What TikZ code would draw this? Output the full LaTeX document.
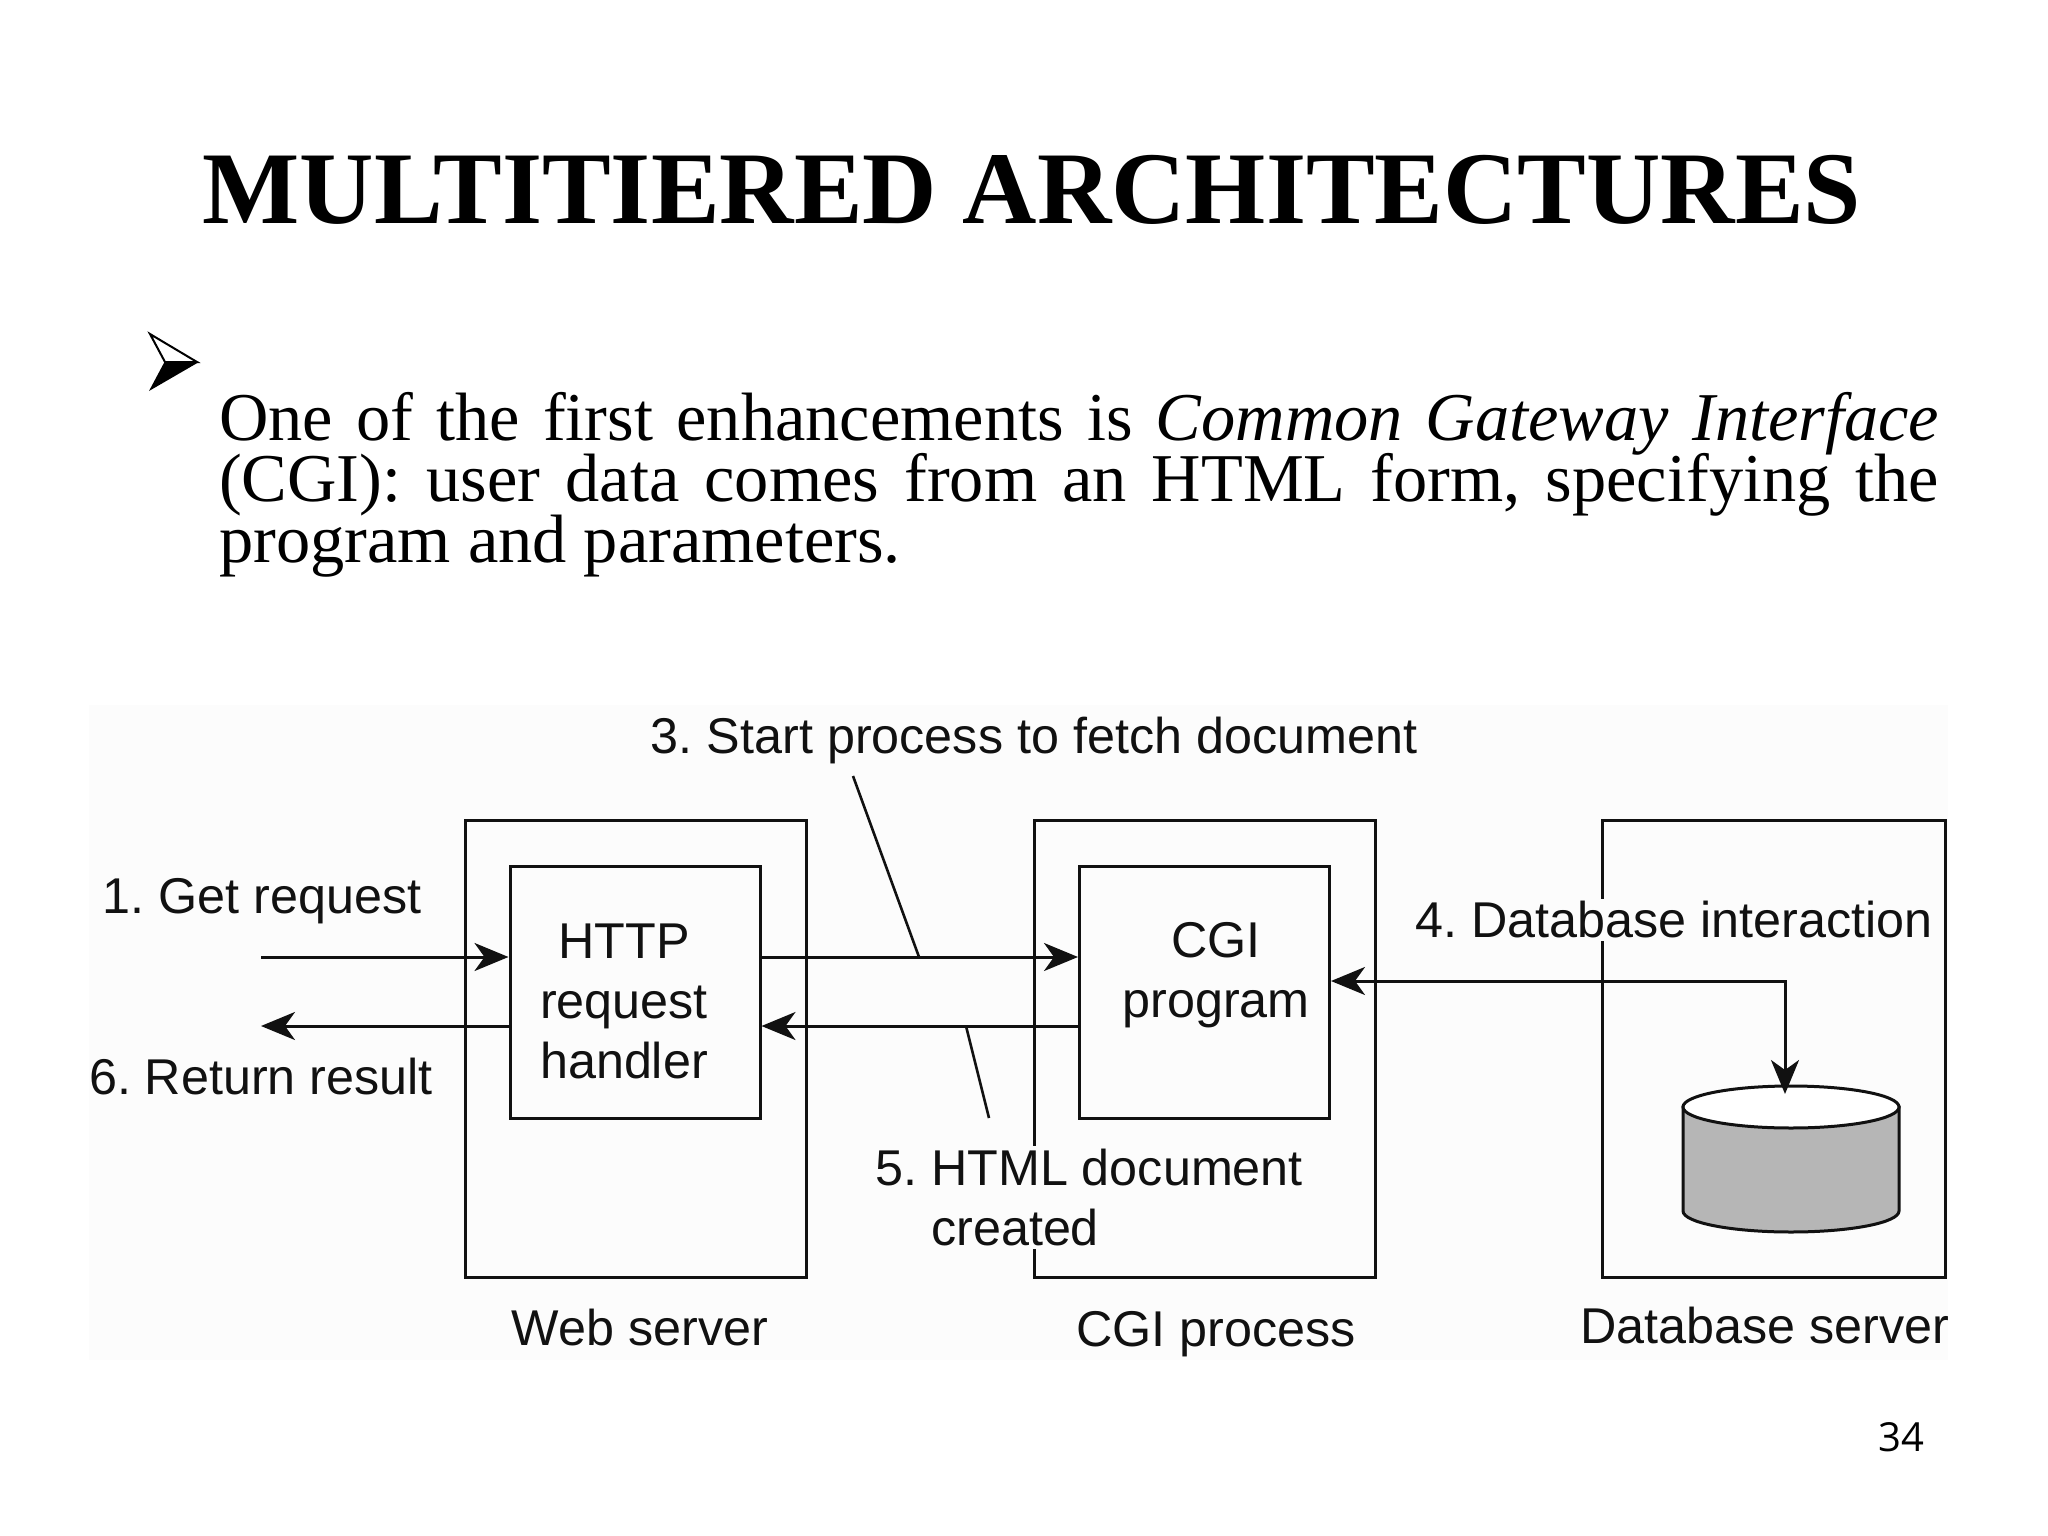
\documentclass[tikz,border=0pt]{standalone}
\usepackage{fontspec}
\setmainfont{Liberation Serif}
\newfontfamily\labelfont{Liberation Sans}
\newfontfamily\numfont{Open Sans}
\usetikzlibrary{arrows.meta}
\frenchspacing
\definecolor{panelbg}{HTML}{FCFCFC}
\definecolor{dbgray}{HTML}{B6B6B6}
\definecolor{ink}{HTML}{111111}
\newcommand{\bodyfont}{\lineskiplimit=-1000pt\relax\fontsize{68.4}{61}\selectfont}
\tikzset{
  x=1pt,y=-1pt,
  labeltext/.style={font=\labelfont\fontsize{50.3}{60}\selectfont,inner sep=0pt,text=ink},
  maskedtext/.style={labeltext,fill=panelbg,inner sep=3pt},
  outerbox/.style={draw=ink,line width=3pt,inner sep=0pt,minimum width=341pt,minimum height=457pt},
  innerbox/.style={draw=ink,line width=3pt,inner sep=0pt,minimum width=250pt,minimum height=252pt},
  flow/.style={draw=ink,line width=3pt,-{Stealth[length=34pt,width=28pt,inset=10pt]}},
  leader/.style={draw=ink,line width=2.6pt},
  cyl/.style={draw=ink,line width=3pt},
}
\begin{document}
\begin{tikzpicture}
\useasboundingbox (0,0) rectangle (2048,1536);
\fill[white] (0,0) rectangle (2048,1536);
\fill[panelbg] (89,705) rectangle (1948,1360);

\node[font=\bfseries\fontsize{103}{103}\selectfont,anchor=base,inner sep=0pt] (title) at (1032,223) {MULTITIERED ARCHITECTURES};
\filldraw[line width=2pt,fill=white,draw=black,line join=miter] (150,334) -- (197,362) -- (165,362) -- cycle;
\fill[black] (149,391) -- (165,361) -- (199,362) -- cycle;
\node[font=\bodyfont,anchor=north west,inner sep=0pt,text width=1720pt,align=justify] (body) at (219,392)
 {One of the first enhancements is \textit{Common Gateway Interface}\linebreak (CGI): user data comes from an HTML form, specifying the\linebreak program and parameters.};

\node[outerbox] (web) at (635.5,1048.5) {};
\node[outerbox] (proc) at (1204.5,1048.5) {};
\node[outerbox,minimum width=343pt] (dbs) at (1773.5,1048.5) {};
\node[innerbox] (http) at (635,992) {};
\node[innerbox] (cgi) at (1204.5,992) {};

\node[labeltext,align=center] (httpt) at (624,1001) {HTTP\\request\\handler};
\node[labeltext,align=center] (cgit) at (1216,975) {CGI\\program};
\node[labeltext] (l1) at (262,901) {1. Get request};
\node[labeltext] (l6) at (261,1077) {6. Return result};
\node[labeltext] (l3) at (1034,740) {3. Start process to fetch document};
\node[maskedtext] (l4) at (1674,920) {4. Database interaction};
\node[maskedtext,align=left,anchor=north west] (l5) at (872,1146) {5. HTML document\\\hspace*{56pt}created};
\node[labeltext] (lw) at (640,1328) {Web server};
\node[labeltext] (lc) at (1216,1334) {CGI process};
\node[labeltext] (ld) at (1765,1326) {Database server};
\node[font=\numfont\fontsize{40}{40}\selectfont,inner sep=0pt] (page) at (1901,1437) {34};

\draw[cyl,fill=dbgray] (1683,1107) -- (1683,1211) arc[x radius=108pt,y radius=21pt,start angle=180,end angle=360] -- (1899,1107) -- cycle;
\draw[cyl,fill=white] (1791,1107) ellipse[x radius=108pt,y radius=21pt];

\coordinate (inL) at (261,957);
\coordinate (outL) at (261,1026);
\coordinate (dbcorner) at (1785,981);
\coordinate (dbtop) at (1785,1094);
\coordinate (lead3a) at (853,776);
\coordinate (lead3b) at (919,957);
\coordinate (lead5a) at (966,1026);
\coordinate (lead5b) at (989,1118);

\draw[flow] (inL) -- (http.west |- inL);
\draw[flow] (http.west |- outL) -- (outL);
\draw[flow] (http.east |- inL) -- (cgi.west |- inL);
\draw[flow] (cgi.west |- outL) -- (http.east |- outL);
\draw[flow,{Stealth[length=34pt,width=28pt,inset=10pt]}-{Stealth[length=34pt,width=28pt,inset=10pt]}] (cgi.east |- dbcorner) -- (dbcorner) -- (dbtop);
\draw[leader] (lead3a) -- (lead3b);
\draw[leader] (lead5a) -- (lead5b);
\end{tikzpicture}
\end{document}
